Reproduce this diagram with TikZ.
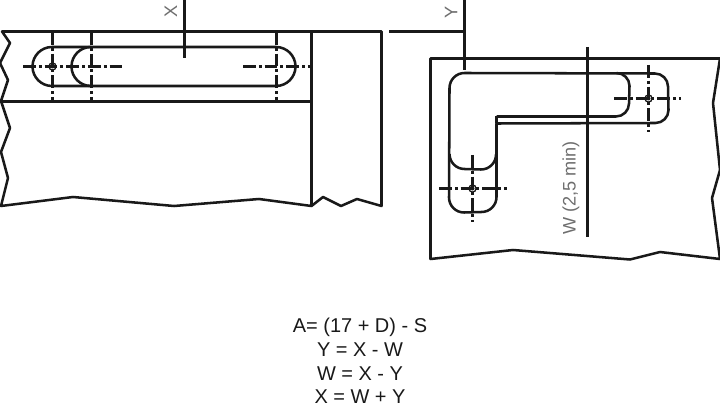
\documentclass[tikz,border=0pt]{standalone}
\usepackage{fontspec}
\setmainfont{Liberation Sans}
\definecolor{dimgrey}{RGB}{110,110,110}
\definecolor{inkblack}{RGB}{25,25,25}
\tikzset{
  part/.style={draw=inkblack,line width=1.8pt,line join=round},
  axisline/.style={draw=inkblack,line width=1.8pt,dash pattern=on 9pt off 2.2pt on 2pt off 2.2pt},
  hole/.style={draw=inkblack,line width=.9pt},
  dimtext/.style={text=dimgrey,font=\fontsize{12.9}{14}\selectfont,inner sep=0pt},
  formula/.style={text=inkblack,font=\fontsize{14.2}{15}\selectfont,inner sep=0pt}
}

\begin{document}
\begin{tikzpicture}[x=0.025cm,y=-0.025cm]
\useasboundingbox (0,0) rectangle (720,406);
% left view
\draw[part] (2,31.5) -- (381.5,31.5) -- (381.5,206) -- (357,199) -- (341,206) -- (323,197) -- (311.5,206) -- (259,199) -- (174,206) -- (73,197) -- (1,206) -- (8,178) -- (1,152) -- (10,128) -- (1,101) -- (8,80) -- (0,63) -- (10,43) -- cycle;
\draw[part] (311.5,31.5) -- (311.5,206);
\draw[part] (1,101.5) -- (311.5,101.5);
\draw[part] (52,47) arc (270:90:19.5) -- (276,86) arc (90:-90:19.5) -- cycle;
\draw[part] (91,47) arc (270:90:19.5);
\draw[axisline] (52.5,32) -- (52.5,101);
\draw[axisline] (91.5,32) -- (91.5,101);
\draw[axisline] (276.5,32) -- (276.5,101);
\draw[axisline] (23,66.5) -- (125,66.5);
\draw[axisline] (243,66.5) -- (310,66.5);
\draw[hole] (52.5,66.5) circle (3.6);
\fill[inkblack] (52.5,66.5) circle (2);
\draw[part] (184.5,0) -- (184.5,58);
\node[dimtext,rotate=90] (labelx) at (171,11) {X};
% right view
\draw[part] (389,31.5) -- (464.5,31.5);
\draw[part] (464.5,0) -- (464.5,70);
\draw[part] (430.5,58.5) -- (720,58.5) -- (713,103) -- (720,170) -- (712,198) -- (720,259) -- (660,252) -- (630,259.5) -- (513,250) -- (430.5,259) -- cycle;
\draw[part] (449.5,88) arc (180:270:15) -- (655,73.5) arc (270:360:13) -- (668.5,110) arc (0:90:13) -- (496.5,123.5) -- (496.5,197) arc (0:90:15) -- (464,212.5) arc (90:180:15) -- cycle;
\draw[part] (449.5,154) arc (180:90:15) -- (481,169.5) arc (90:0:15);
\draw[part] (496.5,116.5) -- (616,116.5) arc (90:0:13) -- (629.5,86) arc (0:-90:13);
\draw[part] (496.5,116.5) -- (496.5,123.5);
\draw[axisline] (648.5,65) -- (648.5,132);
\draw[axisline] (614,98.5) -- (681,98.5);
\draw[axisline] (472.5,155) -- (472.5,222);
\draw[axisline] (439,188.5) -- (507,188.5);
\draw[hole] (648.5,98.5) circle (3.6);
\fill[inkblack] (648.5,98.5) circle (2);
\draw[hole] (472.5,188.5) circle (3.6);
\fill[inkblack] (472.5,188.5) circle (2);
\draw[part] (587.5,47) -- (587.5,237);
\node[dimtext,rotate=90] (labely) at (451,12) {Y};
\node[dimtext,rotate=90] (labelw) at (571,188) {W (2,5 min)};
% formulas
\node[formula] (eqa) at (360,327) {A= (17 + D) - S};
\node[formula] (eqy) at (360,350) {Y = X - W};
\node[formula] (eqw) at (360,374) {W = X - Y};
\node[formula] (eqx) at (360,397) {X = W + Y};
\end{tikzpicture}
\end{document}
